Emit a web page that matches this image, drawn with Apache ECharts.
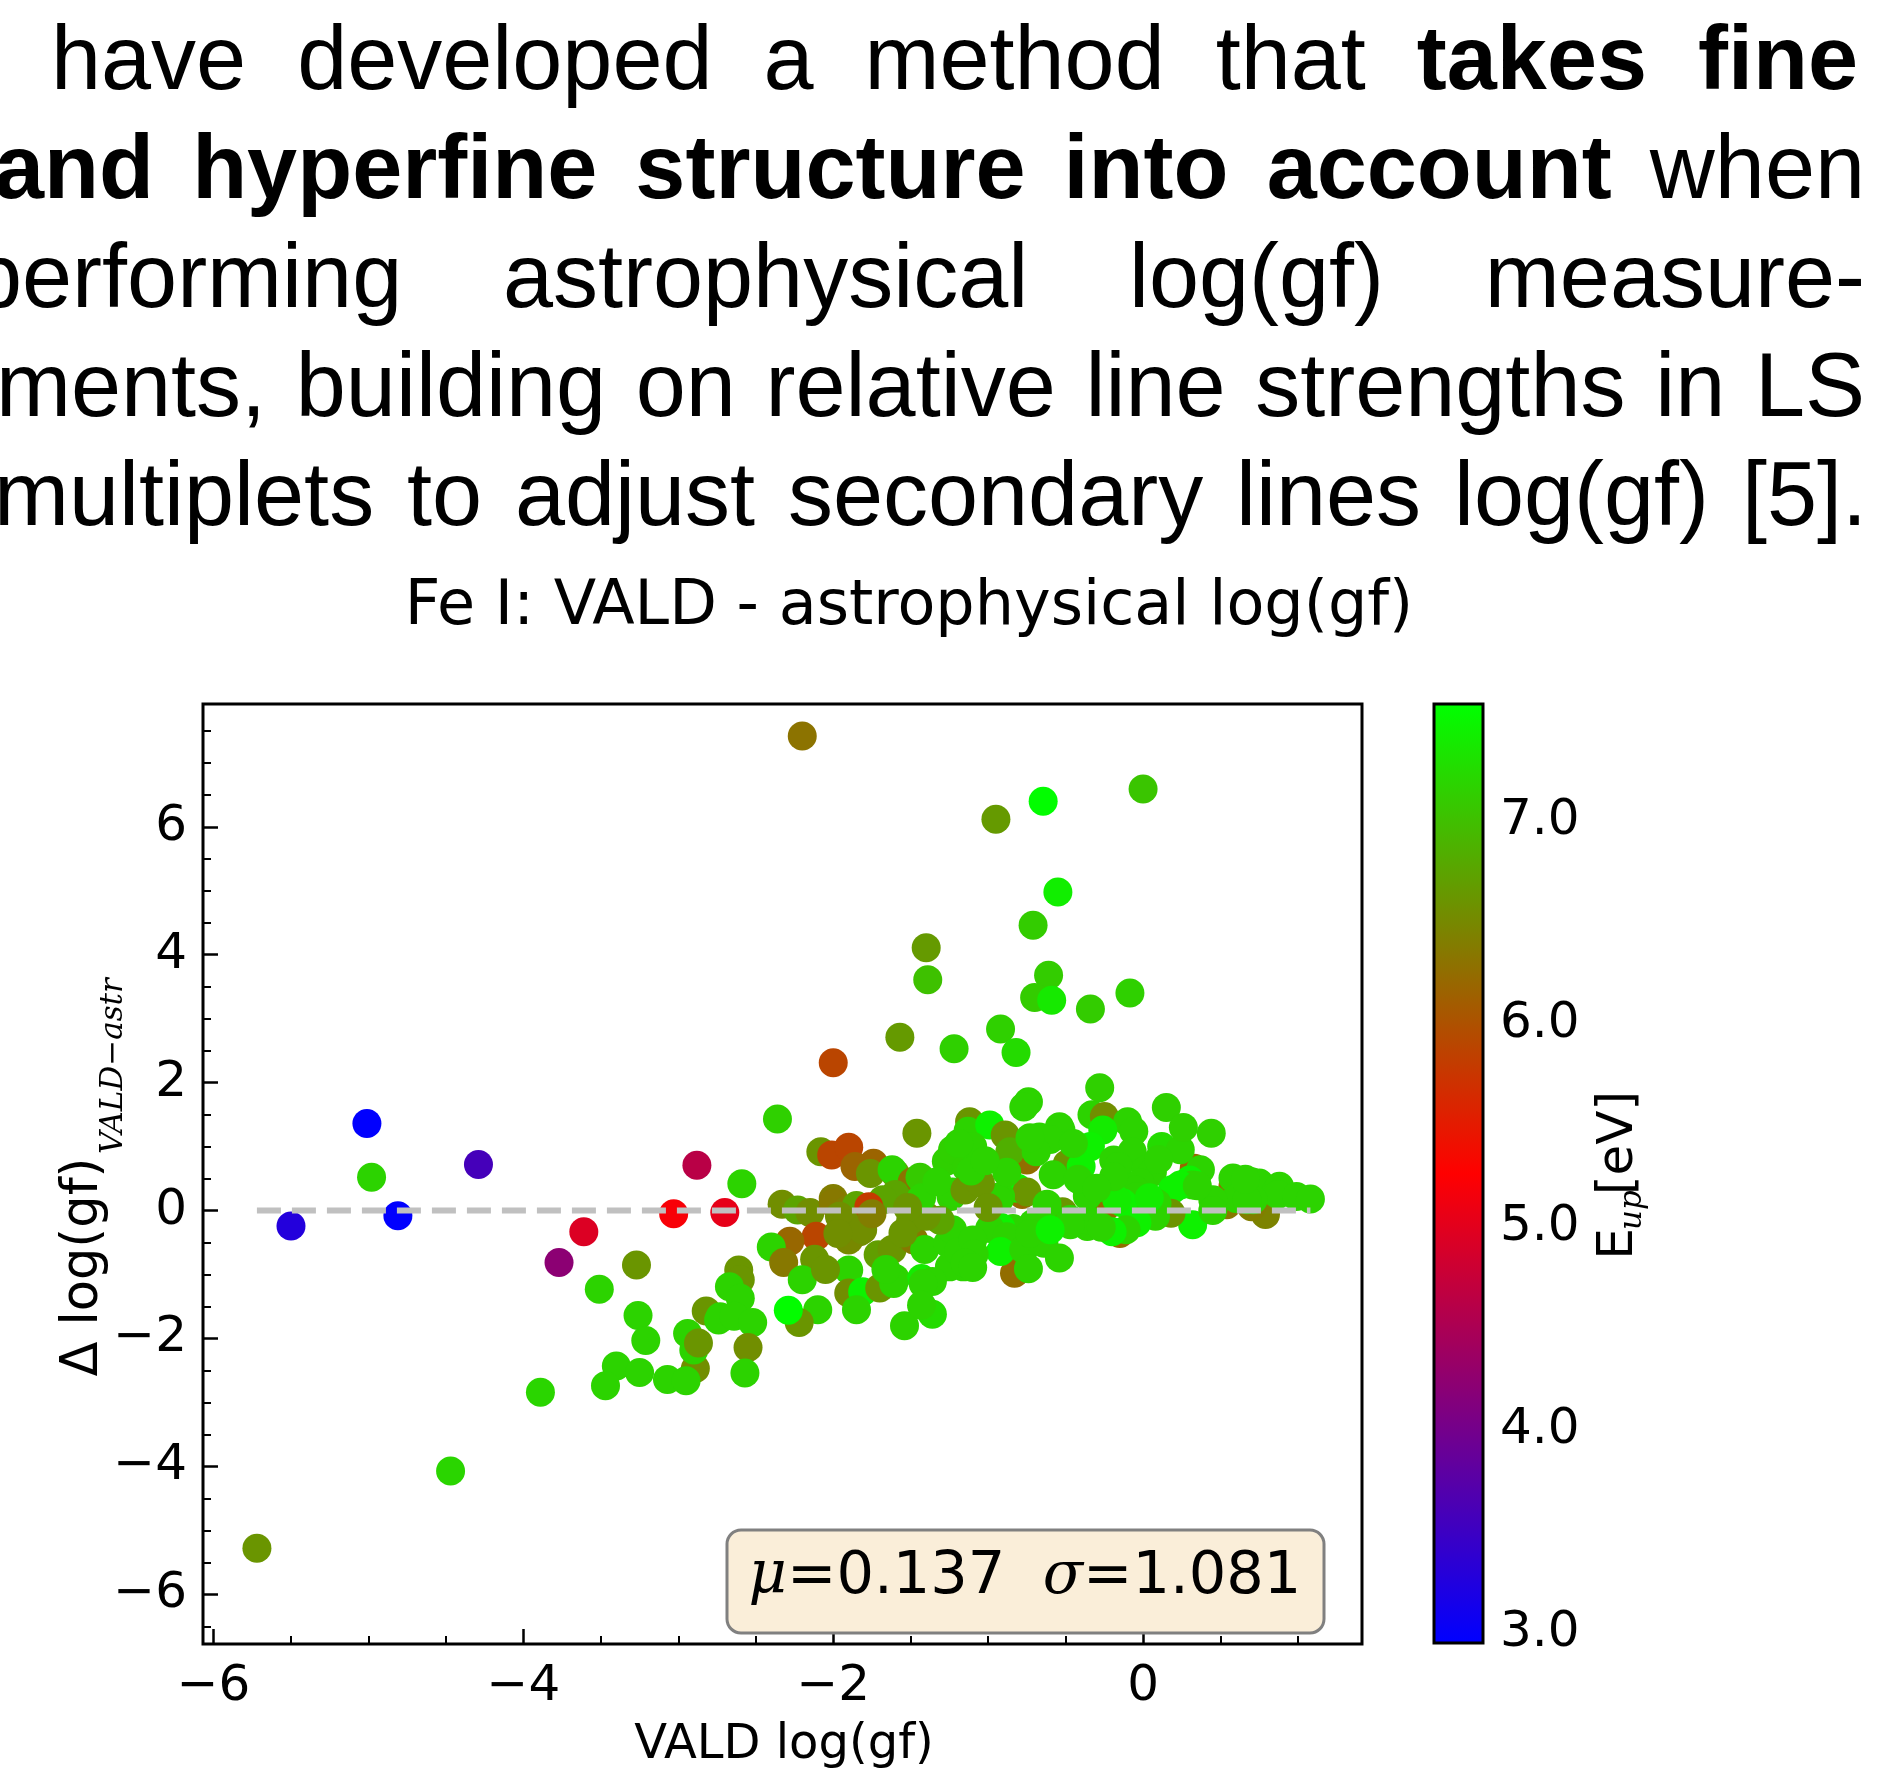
<!DOCTYPE html>
<html>
<head>
<meta charset="utf-8">
<script src="https://cdn.jsdelivr.net/npm/echarts@6/dist/echarts.min.js"></script>
<style>
html,body{margin:0;padding:0;background:#fff;}
#wrap{position:relative;width:1878px;height:1772px;overflow:hidden;background:#fff;}
#chart{position:absolute;left:0;top:0;width:1878px;height:1772px;}
.ln{position:absolute;font-family:'Liberation Sans',Arial,Helvetica,sans-serif;font-size:90px;line-height:90px;height:90px;text-align:justify;text-align-last:justify;color:#000;}
.ln b{font-weight:bold;}
</style>
</head>
<body>
<div id="wrap">
  <div id="chart"></div>
  <div class="ln" style="left:51px;top:13px;width:1807px;">have developed a method that <b>takes fine</b></div>
  <div class="ln" style="left:-6px;top:122px;width:1871px;"><b>and hyperfine structure into account</b> when</div>
  <div class="ln" style="left:-28px;top:231px;width:1893px;">performing astrophysical log(gf) measure-</div>
  <div class="ln" style="left:-4px;top:340px;width:1869px;">ments, building on relative line strengths in LS</div>
  <div class="ln" style="left:-6px;top:449px;width:1873px;">multiplets to adjust secondary lines log(gf) [5].</div>
</div>
<script>
// ---------------- DATA: [VALD log(gf), Δ log(gf), E_up (eV)] ----------------
const highOutliers = [
  [-2.20, 7.42, 6.31], [0.00, 6.59, 7.05], [-0.645, 6.40, 7.56], [-0.95, 6.12, 6.66],
  [-0.55, 4.98, 7.42], [-0.71, 4.46, 7.12], [-1.40, 4.11, 6.66], [-1.39, 3.61, 7.02],
  [-0.61, 3.68, 7.12], [-0.70, 3.33, 7.12], [-0.59, 3.29, 7.38], [-0.34, 3.15, 7.12],
  [-0.085, 3.40, 7.15], [-1.57, 2.71, 6.66], [-1.22, 2.53, 7.15], [-0.92, 2.84, 7.15],
  [-0.82, 2.47, 7.25], [-2.00, 2.31, 5.89], [-0.28, 1.92, 7.15], [-2.36, 1.43, 7.15],
  [0.15, 1.61, 7.15], [0.44, 1.21, 7.15], [0.26, 1.30, 7.15]
];
const leftLines = [
  [-5.01, 1.36, 2.96], [-4.98, 0.52, 7.18], [-5.50, -0.24, 3.27], [-4.81, -0.08, 2.96],
  [-4.29, 0.72, 3.58], [-3.77, -0.81, 4.22], [-3.61, -0.33, 4.95], [-2.88, 0.71, 4.63],
  [-3.03, -0.05, 5.20], [-2.70, -0.03, 5.05], [-2.59, 0.42, 7.18], [-5.72, -5.28, 6.62],
  [-4.47, -4.07, 7.20], [-3.89, -2.84, 7.20]
];
const lowerArm = [
  [-3.27, -0.85, 6.62], [-3.51, -1.23, 7.18], [-3.26, -1.64, 7.18], [-3.21, -2.03, 7.18],
  [-3.40, -2.43, 7.18], [-3.25, -2.53, 7.18], [-3.47, -2.74, 7.18], [-3.07, -2.64, 7.18],
  [-2.89, -2.47, 6.55], [-2.95, -2.66, 7.18], [-2.94, -1.92, 7.18], [-2.90, -2.18, 7.18],
  [-2.87, -2.07, 6.62], [-2.82, -1.57, 6.62], [-2.73, -1.66, 7.18], [-2.74, -1.71, 7.18],
  [-2.61, -0.93, 6.62], [-2.60, -1.08, 6.62], [-2.67, -1.19, 7.18], [-2.60, -1.37, 7.18],
  [-2.64, -1.65, 7.18], [-2.52, -1.75, 7.18], [-2.55, -2.14, 6.55], [-2.57, -2.54, 7.18]
];
const clusterLeft = [
  [-2.08, 0.92, 6.62], [-2.01, 0.87, 5.89], [-1.90, 0.99, 5.89], [-1.86, 0.69, 6.17],
  [-1.74, 0.74, 6.17], [-1.76, 0.58, 6.62], [-1.60, 0.58, 6.75], [-1.62, 0.64, 7.18],
  [-1.49, 0.45, 6.31], [-1.44, 0.52, 7.10], [-1.60, 0.25, 6.75], [-1.68, 0.17, 6.75],
  [-1.46, 1.21, 6.62], [-1.27, 0.77, 7.15], [-1.23, 0.95, 7.15], [-1.14, 0.67, 7.15],
  [-1.24, 0.22, 7.15], [-1.23, 0.29, 7.18], [-1.15, 0.32, 6.62], [-2.33, 0.10, 6.55],
  [-2.23, 0.01, 6.75], [-2.15, -0.03, 6.55], [-2.00, 0.19, 6.40], [-2.00, 0.12, 6.35],
  [-1.91, 0.01, 6.40], [-1.85, 0.08, 6.75], [-1.77, 0.06, 5.80], [-1.96, -0.09, 6.55],
  [-1.92, -0.20, 6.55], [-1.83, -0.33, 6.55], [-2.11, -0.40, 5.89], [-2.28, -0.48, 6.20],
  [-2.40, -0.57, 7.18], [-2.32, -0.81, 6.35], [-2.12, -0.76, 6.62], [-1.90, -0.46, 6.50],
  [-1.81, -0.30, 6.55], [-1.71, -0.69, 6.70], [-1.62, -0.61, 6.62], [-1.48, -0.46, 6.35],
  [-1.41, -0.61, 7.18], [-1.26, -0.51, 7.18], [-1.23, -0.30, 7.18], [-1.31, -0.15, 6.75],
  [-1.44, -0.08, 6.62], [-1.50, -0.15, 6.62], [-1.40, -0.09, 6.62], [-1.16, -0.88, 7.18],
  [-1.25, -0.88, 7.18], [-2.20, -1.08, 7.18], [-1.90, -0.93, 7.18], [-1.90, -1.29, 6.55],
  [-1.81, -1.27, 7.45], [-1.70, -1.21, 6.62], [-1.60, -1.06, 7.18], [-1.43, -1.06, 7.40],
  [-1.36, -1.11, 7.18], [-1.61, -1.14, 7.18], [-1.42, -1.14, 7.18], [-2.10, -1.55, 7.18],
  [-2.22, -1.75, 6.62], [-2.29, -1.56, 7.55], [-1.85, -1.55, 7.18], [-1.54, -1.80, 7.18],
  [-1.36, -1.62, 7.25], [-1.12, 1.39, 6.62], [-1.13, 1.24, 7.18],
  [-1.43, 0.20, 7.18], [-1.97, -0.36, 6.55], [-1.66, -0.92, 7.18], [-2.05, -0.92, 6.62],
  [-1.43, -1.48, 7.18], [-1.19, -0.64, 7.18], [-1.52, 0.05, 6.62], [-1.33, 0.45, 7.18],
  [-1.75, -0.05, 6.40], [-1.55, -0.35, 6.62]
];
const clusterRight = [
  [-0.75, 0.79, 6.25], [0.33, 0.66, 6.20], [0.58, 0.38, 6.20], [0.54, 0.09, 6.35],
  [-0.24, 0.06, 6.25], [-0.15, -0.36, 6.25], [-0.83, -0.98, 6.25], [-0.78, 0.25, 6.20],
  [0.77, 0.01, 6.45], [0.79, -0.06, 6.45], [0.70, 0.06, 6.40],
  [-0.74, 1.70, 7.18], [-0.77, 1.62, 7.18], [-0.99, 1.34, 7.45], [-0.89, 1.18, 6.62],
  [-0.33, 1.50, 7.18], [-0.25, 1.47, 6.55], [-0.10, 1.39, 7.18], [-0.26, 1.26, 7.40],
  [-0.06, 1.24, 7.18], [-0.54, 1.31, 7.18], [-0.53, 1.26, 7.18], [-0.67, 1.15, 7.18],
  [-0.60, 1.11, 7.18], [-0.34, 1.00, 7.45], [-0.49, 0.73, 6.62], [-0.40, 0.69, 7.45],
  [-0.86, 0.92, 6.85], [-1.10, 1.00, 7.18], [-0.69, 0.92, 7.18], [-0.19, 0.79, 7.18],
  [-0.07, 0.92, 7.18], [-0.16, 0.69, 7.18], [0.02, 0.64, 7.18], [0.06, 0.60, 7.18],
  [0.12, 1.00, 7.25], [0.37, 0.64, 7.18], [0.30, 0.48, 7.45], [0.58, 0.51, 7.18],
  [0.70, 0.45, 7.18], [0.75, 0.43, 7.18], [0.86, 0.30, 7.18], [0.88, 0.38, 7.18],
  [0.87, 0.25, 7.18], [0.99, 0.22, 7.18], [1.08, 0.18, 7.18], [0.60, 0.19, 7.18],
  [0.71, 0.17, 7.18], [0.67, 0.17, 7.18], [0.45, 0.17, 7.18], [0.32, 0.40, 7.18],
  [0.24, 0.40, 7.45], [0.19, 0.33, 7.45], [0.32, -0.22, 7.45], [0.18, -0.04, 6.60],
  [0.09, 0.11, 7.18], [0.08, -0.09, 7.18], [-0.02, 0.43, 7.18], [-0.05, 0.32, 7.18],
  [-0.04, 0.22, 7.18], [-0.13, 0.12, 7.45], [-0.04, -0.19, 7.45], [-0.11, -0.30, 7.18],
  [-0.20, -0.33, 7.45], [-0.36, -0.25, 7.18], [-0.35, -0.15, 7.18], [-0.36, 0.23, 7.18],
  [-0.17, 0.17, 7.40], [-0.19, 0.53, 7.18], [-0.58, 0.56, 7.18], [-0.52, -0.02, 6.62],
  [-0.47, -0.14, 7.18], [-0.47, -0.22, 7.18], [-0.71, -0.20, 7.18], [-0.81, 0.35, 7.45],
  [-0.75, 0.29, 6.62], [-0.92, 0.22, 7.18], [-0.93, 0.17, 7.18], [-1.05, 0.43, 6.62],
  [-1.11, 0.62, 7.18], [-0.84, -0.28, 7.18], [-0.92, -0.26, 7.45], [-0.99, -0.28, 7.18],
  [-1.10, -0.46, 7.18], [-0.88, -0.41, 7.18], [-0.92, -0.64, 7.45], [-0.77, -0.61, 7.18],
  [-0.64, -0.51, 7.18], [-0.67, -0.46, 7.18], [-1.09, -0.68, 7.18], [-1.15, -0.82, 7.18],
  [-1.10, -0.89, 7.18], [-0.74, -0.91, 7.18], [-0.54, -0.74, 7.18],
  [-1.19, 1.05, 7.18], [-0.73, 1.14, 7.18], [-0.42, 0.49, 7.18], [-0.27, -0.26, 7.18],
  [-0.73, -0.36, 7.18], [0.04, 0.20, 7.40], [0.24, 0.95, 7.18], [0.35, 0.39, 7.18],
  [0.66, 0.49, 7.18], [-0.62, 0.10, 7.18], [-1.00, 0.05, 6.62], [-0.30, 0.35, 7.18],
  [0.10, 0.80, 7.18], [-0.88, 0.60, 7.18], [-0.45, 1.05, 7.18], [0.45, 0.00, 7.18],
  [-0.60, -0.30, 7.45], [-1.02, 0.78, 7.18]
];

// tick values
const xMajor = [-6, -4, -2, 0];
const xMinor = [-5.5, -5, -4.5, -3.5, -3, -2.5, -1.5, -1, -0.5, 0.5, 1];
const yMajor = [-6, -4, -2, 0, 2, 4, 6];
const yMinor = [-6.5, -5.5, -5, -4.5, -3.5, -3, -2.5, -1.5, -1, -0.5, 0.5, 1, 1.5, 2.5, 3, 3.5, 4.5, 5, 5.5, 6.5, 7, 7.5];
const cbMajor = [3, 4, 5, 6, 7];
const cbMinor = [3.2, 3.4, 3.6, 3.8, 4.2, 4.4, 4.6, 4.8, 5.2, 5.4, 5.6, 5.8, 6.2, 6.4, 6.6, 6.8, 7.2, 7.4];

const statsText = { mu: '0.137', sigma: '1.081' };

// axis ranges
const X_MIN = -6.068, X_MAX = 1.413;
const Y_MIN = -6.776, Y_MAX = 7.92;
const E_MIN = 2.953, E_MAX = 7.578;

// ---------------------------------------------------------------------------
const points = [].concat(leftLines, lowerArm, clusterLeft, clusterRight, highOutliers);
const xs = points.map(p => p[0]);
const xLo = Math.min.apply(null, xs), xHi = Math.max.apply(null, xs);

const minusFmt = v => (v < 0 ? '\u2212' + String(Math.abs(v)) : String(v));
const DV = 'DejaVu Sans';

const chart = echarts.init(document.getElementById('chart'), null, { renderer: 'canvas' });

const noLine = { show: false, onZero: false };
const majorTick = (vals) => ({ show: true, inside: true, length: 15, lineStyle: { color: '#000', width: 2.5 }, customValues: vals });
const minorTick = (vals) => ({ show: true, inside: true, length: 8, lineStyle: { color: '#000', width: 2 }, customValues: vals });

const option = {
  animation: false,
  backgroundColor: 'rgba(0,0,0,0)',
  grid: [
    { left: 203, top: 704, width: 1159, height: 940, show: true, borderColor: '#000', borderWidth: 3, backgroundColor: 'rgba(0,0,0,0)', z: 5, containLabel: false, outerBoundsMode: 'none' },
    { left: 1434, top: 704, width: 49, height: 939, show: true, borderColor: '#000', borderWidth: 3, backgroundColor: 'rgba(0,0,0,0)', z: 5, containLabel: false, outerBoundsMode: 'none' }
  ],
  xAxis: [
    { gridIndex: 0, type: 'value', min: X_MIN, max: X_MAX, position: 'bottom',
      splitLine: { show: false }, axisLine: noLine, axisTick: majorTick(xMajor),
      axisLabel: { show: true, customValues: xMajor, formatter: minusFmt, fontFamily: DV, fontSize: 50, color: '#000', margin: 18 } },
    { gridIndex: 0, type: 'value', min: X_MIN, max: X_MAX, position: 'bottom',
      splitLine: { show: false }, axisLine: noLine, axisTick: minorTick(xMinor), axisLabel: { show: false } },
    { gridIndex: 1, type: 'category', data: ['cb'], show: false, boundaryGap: true, axisLine: noLine }
  ],
  yAxis: [
    { gridIndex: 0, type: 'value', min: Y_MIN, max: Y_MAX, position: 'left',
      splitLine: { show: false }, axisLine: noLine, axisTick: majorTick(yMajor),
      axisLabel: { show: true, customValues: yMajor, formatter: minusFmt, fontFamily: DV, fontSize: 50, color: '#000', margin: 16 } },
    { gridIndex: 0, type: 'value', min: Y_MIN, max: Y_MAX, position: 'left',
      splitLine: { show: false }, axisLine: noLine, axisTick: minorTick(yMinor), axisLabel: { show: false } },
    { gridIndex: 1, type: 'value', min: E_MIN, max: E_MAX, position: 'right',
      splitLine: { show: false }, axisLine: noLine,
      axisTick: { show: true, inside: true, length: 14, lineStyle: { color: '#000', width: 2.5 }, customValues: cbMajor },
      axisLabel: { show: true, customValues: cbMajor, formatter: v => Number(v).toFixed(1), fontFamily: DV, fontSize: 50, color: '#000', margin: 17 } },
    { gridIndex: 1, type: 'value', min: E_MIN, max: E_MAX, position: 'right',
      splitLine: { show: false }, axisLine: noLine,
      axisTick: { show: true, inside: true, length: 7, lineStyle: { color: '#000', width: 2 }, customValues: cbMinor },
      axisLabel: { show: false } }
  ],
  visualMap: [{
    type: 'continuous', show: false, seriesIndex: 0, dimension: 2,
    min: E_MIN, max: E_MAX,
    inRange: { color: ['#0000ff', '#ff0000', '#00ff00'] }
  }],
  series: [
    { type: 'scatter', xAxisIndex: 0, yAxisIndex: 0, data: points, symbol: 'circle', symbolSize: 29,
      itemStyle: { opacity: 1 }, z: 2, large: false, progressive: 0, silent: true },
    { type: 'line', xAxisIndex: 0, yAxisIndex: 0, data: [[xLo, 0], [xHi, 0]], symbol: 'none', z: 4, silent: true,
      lineStyle: { color: '#c0c0c0', width: 6, type: [24, 11] } },
    { type: 'bar', xAxisIndex: 2, yAxisIndex: 2, stack: 'cb', data: [E_MIN], barWidth: '100%',
      itemStyle: { color: 'rgba(0,0,0,0)' }, silent: true },
    { type: 'bar', xAxisIndex: 2, yAxisIndex: 2, stack: 'cb', data: [E_MAX - E_MIN], barWidth: '100%', silent: true,
      itemStyle: { color: new echarts.graphic.LinearGradient(0, 0, 0, 1, [
        { offset: 0, color: '#00ff00' }, { offset: 0.5, color: '#ff0000' }, { offset: 1, color: '#0000ff' }]) } }
  ],
  graphic: [
    { type: 'text', x: 909, y: 608, z: 10,
      style: { text: 'Fe I: VALD - astrophysical log(gf)', font: '62px "DejaVu Sans"', fill: '#000', textAlign: 'center', textVerticalAlign: 'middle', align: 'center', verticalAlign: 'middle' } },
    { type: 'text', x: 784, y: 1746, z: 10,
      style: { text: 'VALD log(gf)', font: '48px "DejaVu Sans"', fill: '#000', textAlign: 'center', textVerticalAlign: 'middle', align: 'center', verticalAlign: 'middle' } },
    { type: 'text', x: 84, y: 1267, rotation: Math.PI / 2, z: 10,
      style: { text: '\u0394 log(gf)', font: '51px "DejaVu Sans"', fill: '#000', textAlign: 'center', textVerticalAlign: 'middle', align: 'center', verticalAlign: 'middle' } },
    { type: 'text', x: 114, y: 1066, rotation: Math.PI / 2, z: 10,
      style: { text: 'VALD\u2212astr', font: 'italic 31px "DejaVu Serif"', fill: '#000', textAlign: 'center', textVerticalAlign: 'middle', align: 'center', verticalAlign: 'middle' } },
    { type: 'text', x: 1619, y: 1244, rotation: Math.PI / 2, z: 10,
      style: { text: 'E', font: '50px "DejaVu Sans"', fill: '#000', textAlign: 'center', textVerticalAlign: 'middle', align: 'center', verticalAlign: 'middle' } },
    { type: 'text', x: 1633, y: 1210, rotation: Math.PI / 2, z: 10,
      style: { text: 'up', font: 'italic 31px "DejaVu Serif"', fill: '#000', textAlign: 'center', textVerticalAlign: 'middle', align: 'center', verticalAlign: 'middle' } },
    { type: 'text', x: 1619, y: 1143, rotation: Math.PI / 2, z: 10,
      style: { text: '[eV]', font: '50px "DejaVu Sans"', fill: '#000', textAlign: 'center', textVerticalAlign: 'middle', align: 'center', verticalAlign: 'middle' } },
    { type: 'rect', z: 20, shape: { x: 727, y: 1530, width: 597, height: 103, r: 14 },
      style: { fill: '#faeed9', stroke: '#808080', lineWidth: 3 } },
    { type: 'text', x: 1025, y: 1578, z: 21,
      style: { text: '{i|\u03bc}=' + statsText.mu + '  {i|\u03c3}=' + statsText.sigma,
        font: '59px "DejaVu Sans"', fill: '#000', textAlign: 'center', textVerticalAlign: 'middle', align: 'center', verticalAlign: 'middle',
        rich: { i: { fontFamily: 'DejaVu Serif', fontStyle: 'italic', fontSize: 59, fill: '#000' } } } }
  ]
};
chart.setOption(option);
</script>
</body>
</html>
